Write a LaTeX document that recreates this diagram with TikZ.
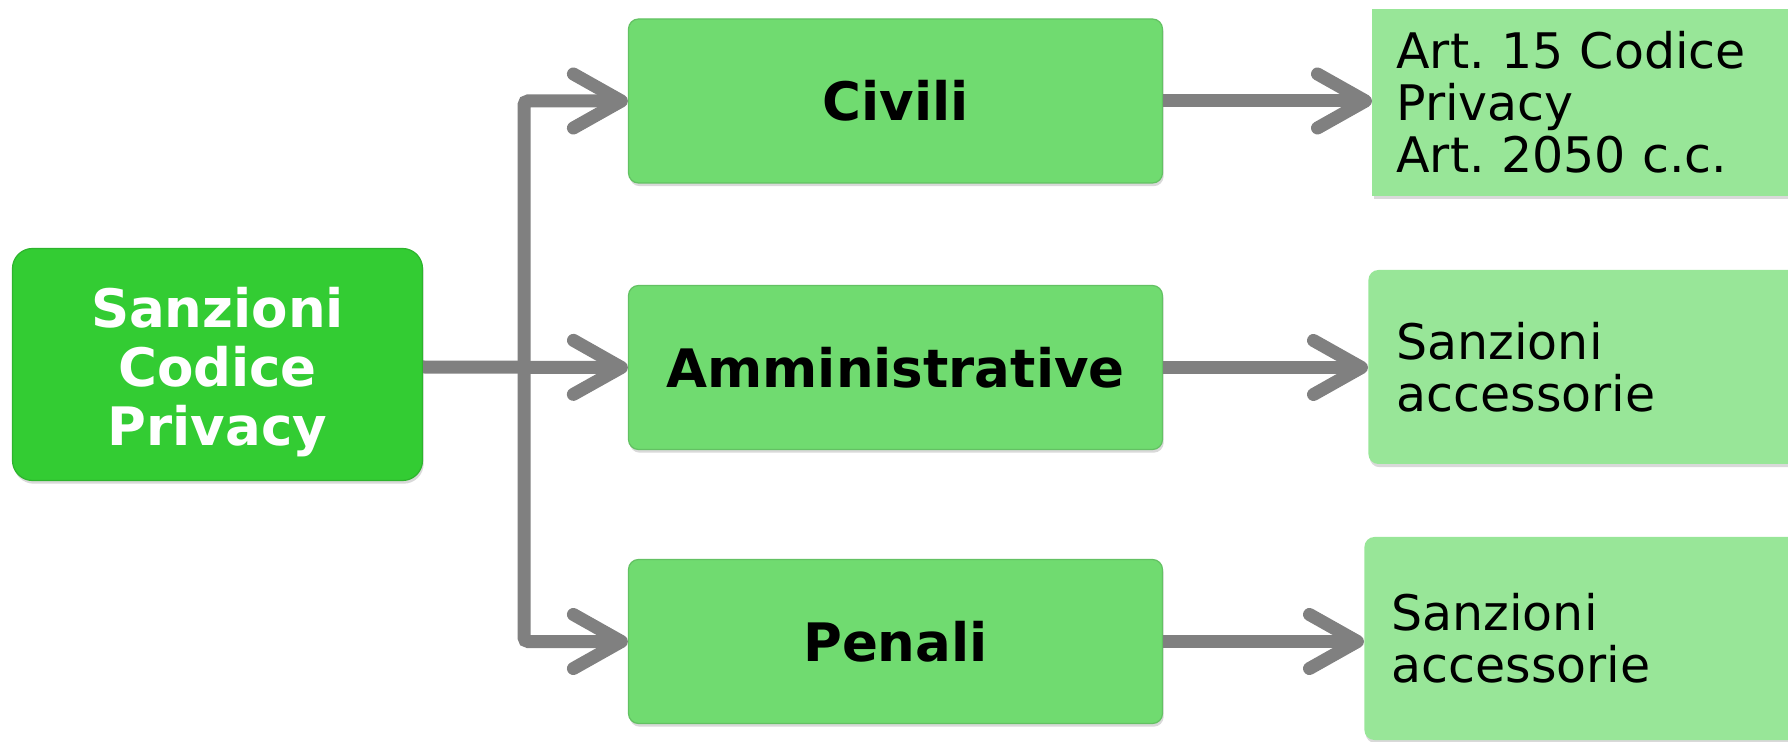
\documentclass[tikz,border=0pt]{standalone}
\usepackage{fontspec}
\setmainfont{DejaVu Sans}
\usepackage{tikz}
\usetikzlibrary{arrows.meta,shadows}
\frenchspacing

\definecolor{rootgreen}{RGB}{51,204,51}
\definecolor{kindgreen}{RGB}{112,219,112}
\definecolor{notegreen}{RGB}{152,230,152}
\definecolor{linegray}{RGB}{128,128,128}

\begin{document}
\begin{tikzpicture}[x=0.5pt,y=-0.5pt,
        conn/.style={draw=linegray,line width=6.5pt,rounded corners=2pt,
            -{Straight Barb[length=24pt,width=27pt,line cap=round,line join=round]}},
        rootbox/.style={fill=rootgreen,draw=rootgreen!88!black,line width=0.6pt,
            rounded corners=10pt,minimum width=205pt,minimum height=116pt,inner sep=0pt,
            text=white,font=\fontsize{26.5}{29.4}\selectfont\bfseries,
            drop shadow={shadow xshift=0.6pt,shadow yshift=-1.6pt,opacity=0.3}},
        kindbox/.style={fill=kindgreen,draw=kindgreen!88!black,line width=0.6pt,
            rounded corners=5pt,minimum width=267pt,minimum height=82pt,inner sep=0pt,
            align=center,font=\fontsize{26.5}{30}\selectfont\bfseries,
            drop shadow={shadow xshift=0.6pt,shadow yshift=-1.6pt,opacity=0.3}},
        notebox/.style={fill=notegreen,anchor=west,text width=200pt,align=left,
            inner ysep=0pt,font=\fontsize{24.5}{26}\selectfont,
            drop shadow={shadow xshift=0.6pt,shadow yshift=-1.6pt,opacity=0.3}}]
        \clip (0,0) rectangle (1788,742);

        \node[rootbox] (sanzioni) at (217.5,364.5)
            {\raisebox{-5pt}[\height][\depth]{\begin{tabular}{@{}c@{}}Sanzioni\\Codice\\Privacy\end{tabular}}};

        \node[kindbox] (civili) at (895.5,101) {Civili};
        \node[kindbox] (amministrative) at (895.5,367.5) {Amministrative};
        \node[kindbox] (penali) at (895.5,641.5) {Penali};

        \node[notebox,inner xsep=12pt,minimum height=93.5pt] (codice) at (1372,102.5)
            {Art. 15 Codice\\Privacy\\Art. 2050 c.c.};
        \node[notebox,inner xsep=14pt,minimum height=97pt,rounded corners=5pt] (accamm) at (1368,367)
            {Sanzioni\\accessorie};
        \node[notebox,inner xsep=13.5pt,minimum height=101.5pt,rounded corners=5pt] (accpen) at (1364,638.5)
            {Sanzioni\\accessorie};

        % root to the three kinds
        \coordinate (split) at (524,367);
        \draw[conn] (sanzioni.east |- split) -- (amministrative.west);
        \draw[conn] (split) |- (civili.west);
        \draw[conn] (split) |- (penali.west);

        % kinds to notes
        \draw[conn] (civili.east) -- (civili.east -| codice.west);
        \draw[conn] (amministrative.east) -- (amministrative.east -| accamm.west);
        \draw[conn] (penali.east) -- (penali.east -| accpen.west);

\end{tikzpicture}
\end{document}
